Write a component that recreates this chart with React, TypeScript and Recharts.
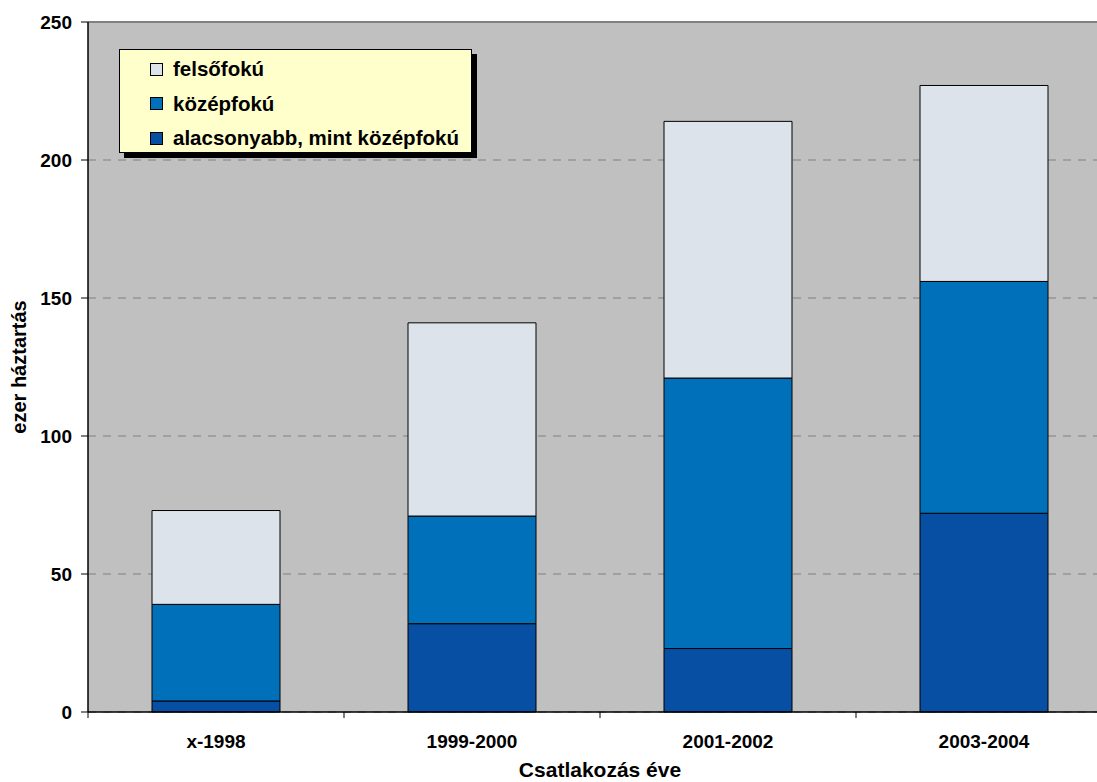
import React from "react"
import { BarChart, Bar, XAxis, YAxis, CartesianGrid, ReferenceLine } from "recharts"

// Háztartások száma a csatlakozás éve és végzettség szerint (ezer)
const periods = ["x-1998", "1999-2000", "2001-2002", "2003-2004"]
const alacsonyabb = [4, 32, 23, 72]
const kozepfoku = [35, 39, 98, 84]
const felsofoku = [34, 70, 93, 71]
const yTicks = [0, 50, 100, 150, 200, 250]

const series = [
  { key: "felsofoku", name: "felsőfokú", color: "#DCE3EB" },
  { key: "kozepfoku", name: "középfokú", color: "#0070BA" },
  { key: "alacsonyabb", name: "alacsonyabb, mint középfokú", color: "#074FA3" },
]

const data = periods.map((p, i) => ({
  period: p,
  alacsonyabb: alacsonyabb[i],
  kozepfoku: kozepfoku[i],
  felsofoku: felsofoku[i],
}))

const FONT = "'Liberation Sans', Arial, sans-serif"
const FS = 19

function CategoryTick(props: any) {
  const { x, y, payload } = props
  const half = payload.offset || 0
  return (
    <g>
      <line x1={x - half} y1={y - 8} x2={x - half} y2={y - 2} stroke="#000" strokeWidth={1} />
      <text x={x} y={y + 28} textAnchor="middle" fontFamily={FONT} fontSize={FS} fontWeight="bold" fill="#000">
        {payload.value}
      </text>
    </g>
  )
}

function LegendBox() {
  return (
    <div style={{ position: "absolute", left: 119, top: 49, width: 358, height: 109 }}>
      <div style={{ position: "absolute", left: 5, top: 5, width: 353, height: 104, background: "#000" }} />
      <div
        style={{
          position: "absolute",
          left: 0,
          top: 0,
          width: 351,
          height: 102,
          background: "#FFFFCC",
          border: "1px solid #000",
        }}
      >
        {series.map((s, i) => (
          <div
            key={s.key}
            style={{
              position: "absolute",
              left: 30,
              top: 7 + i * 34.5,
              height: 24,
              display: "flex",
              alignItems: "center",
              fontFamily: FONT,
              fontSize: 20.5,
              fontWeight: "bold",
              color: "#000",
              whiteSpace: "nowrap",
            }}
          >
            <span
              style={{
                display: "inline-block",
                width: 11,
                height: 11,
                background: s.color,
                border: "1px solid #000",
                marginRight: 10,
              }}
            />
            {s.name}
          </div>
        ))}
      </div>
    </div>
  )
}

export default function App() {
  return (
    <div
      style={{
        position: "absolute",
        left: 0,
        top: 0,
        width: 1097,
        height: 782,
        overflow: "hidden",
        background: "#fff",
      }}
    >
      <BarChart
        width={1120}
        height={782}
        data={data}
        margin={{ top: 22, right: 8, left: 0, bottom: 0 }}
        barCategoryGap="25%"
      >
        <CartesianGrid
          vertical={false}
          fill="#C0C0C0"
          stroke="#808080"
          strokeDasharray="8 7"
        />
        <ReferenceLine y={250} stroke="#808080" strokeWidth={2} ifOverflow="visible" />
        <XAxis
          dataKey="period"
          height={70}
          axisLine={{ stroke: "#000", strokeWidth: 1.5 }}
          tickLine={false}
          tick={<CategoryTick />}
          interval={0}
          label={{
            value: "Csatlakozás éve",
            position: "insideBottom",
            offset: 5,
            style: { fontFamily: FONT, fontSize: 21, fontWeight: "bold", fill: "#000" },
          }}
        />
        <YAxis
          width={88}
          domain={[0, 250]}
          ticks={yTicks}
          interval={0}
          tickSize={7}
          tickMargin={9}
          axisLine={{ stroke: "#000", strokeWidth: 1.5 }}
          tickLine={{ stroke: "#000" }}
          tick={{ fontFamily: FONT, fontSize: FS, fontWeight: "bold", fill: "#000" }}
          label={{
            value: "ezer háztartás",
            angle: -90,
            position: "center",
            dx: -25,
            style: { fontFamily: FONT, fontSize: 20, fontWeight: "bold", fill: "#000", textAnchor: "middle" },
          }}
        />
        <Bar dataKey="alacsonyabb" name="alacsonyabb, mint középfokú" stackId="a" fill="#074FA3" stroke="#000" strokeWidth={1} isAnimationActive={false} />
        <Bar dataKey="kozepfoku" name="középfokú" stackId="a" fill="#0070BA" stroke="#000" strokeWidth={1} isAnimationActive={false} />
        <Bar dataKey="felsofoku" name="felsőfokú" stackId="a" fill="#DCE3EB" stroke="#000" strokeWidth={1} isAnimationActive={false} />
      </BarChart>
      <LegendBox />
    </div>
  )
}
